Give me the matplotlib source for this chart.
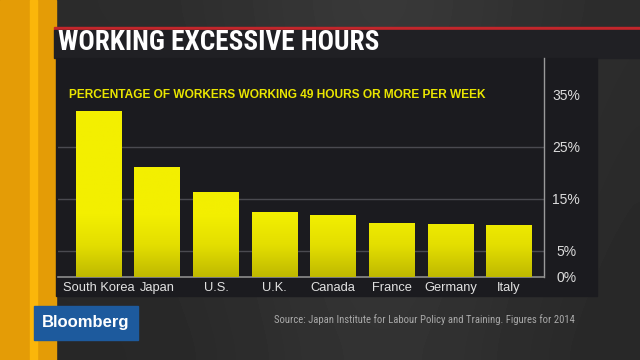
import numpy as np
import matplotlib
matplotlib.use("Agg")
import matplotlib.pyplot as plt
from matplotlib import font_manager as fm
from matplotlib.patches import Rectangle
from matplotlib.colors import LinearSegmentedColormap, Normalize

# ---- data ----
countries = ["South Korea", "Japan", "U.S.", "U.K.", "Canada", "France", "Germany", "Italy"]
share_pct = [31.9, 21.1, 16.3, 12.4, 11.8, 10.3, 10.1, 9.9]
tick_values = [0, 5, 15, 25, 35]
tick_labels = ["0%", "5%", "15%", "25%", "35%"]
grid_values = [5, 15, 25]
title = "WORKING EXCESSIVE HOURS"
subtitle = "PERCENTAGE OF WORKERS WORKING 49 HOURS OR MORE PER WEEK"
source = "Source: Japan Institute for Labour Policy and Training. Figures for 2014"
brand = "Bloomberg"


def has_font(name):
    try:
        fm.findfont(fm.FontProperties(family=name), fallback_to_default=False)
        return True
    except Exception:
        return False


NARROW = "Liberation Sans"
for cand in ["Liberation Sans Narrow", "Roboto Condensed", "Open Sans Condensed"]:
    if has_font(cand):
        NARROW = cand
        break
REG = "Liberation Sans"

W, H = 640, 360
fig = plt.figure(figsize=(6.4, 3.6), dpi=100)
fig.patch.set_facecolor("#2b2b2d")
renderer = fig.canvas.get_renderer()


def fit_text(t, target_px):
    w = t.get_window_extent(renderer=renderer).width
    if w > 0:
        t.set_fontsize(t.get_fontsize() * target_px / w)


# ---- background (pixel coordinates) ----
bg = fig.add_axes([0, 0, 1, 1], zorder=-10)
bg.set_xlim(0, W)
bg.set_ylim(H, 0)
bg.axis("off")
xs = np.linspace(0, 1, 64)
row = 0.17 + 0.05 * np.exp(-((xs - 0.6) / 0.25) ** 2)
img = np.tile(row, (16, 1))
vert = np.linspace(1.0, 0.9, 16)[:, None]
img = np.clip(img * vert, 0, 1)
bg.imshow(img, cmap="gray", vmin=0, vmax=1, extent=[0, W, H, 0], aspect="auto", zorder=0,
          interpolation="bicubic")
# orange stripe
bg.add_patch(Rectangle((0, 0), 56, H, color="#e49c06", zorder=1))
bg.add_patch(Rectangle((30, 0), 7, H, color="#fbb60a", zorder=1.1))
# red line and title bar
bg.add_patch(Rectangle((54, 27), W - 54, 3, color="#c3262b", zorder=2))
bg.add_patch(Rectangle((54, 30), W - 54, 28, color="#202024", zorder=2))
# chart panel
bg.add_patch(Rectangle((56, 58), 541, 238, color="#1b1b1f", zorder=2))
# Bloomberg box
bg.add_patch(Rectangle((34, 306), 104, 34, color="#1d5a9d", zorder=3))
t_brand = bg.text(86, 323, brand, color="white", fontsize=14, family=REG, fontweight="bold",
                  ha="center", va="center", zorder=4)
t_title = bg.text(58, 43, title, color="white", fontsize=18, family=NARROW, fontweight="bold",
                  ha="left", va="center", zorder=4)
t_sub = bg.text(69, 95, subtitle, color="#eae600", fontsize=9, family=REG, fontweight="bold",
                ha="left", va="center", zorder=4)
t_src = bg.text(274, 320, source, color="#a9a9a9", fontsize=7, family=NARROW,
                ha="left", va="center", zorder=4)
fit_text(t_brand, 88)
fit_text(t_title, 321)
fit_text(t_sub, 418)
fit_text(t_src, 301)

# ---- main chart ----
left, right = 58 / W, 544 / W
bottom, top = 1 - 276.7 / H, 1 - 58 / H
ax = fig.add_axes([left, bottom, right - left, top - bottom])
ax.set_facecolor("none")

x = np.arange(len(countries))
bars = ax.bar(x, share_pct, width=0.784, color="#ebe600", zorder=3)

cmap = LinearSegmentedColormap.from_list("ybar", ["#bfb900", "#e3de00", "#f3ef00"])
norm = Normalize(vmin=0, vmax=12, clip=True)
for p in bars:
    x0, w, h = p.get_x(), p.get_width(), p.get_height()
    ys = np.linspace(h, 0, 128)[:, None]
    im = ax.imshow(ys, cmap=cmap, norm=norm, extent=[x0, x0 + w, 0, h], aspect="auto",
                   zorder=3.5, interpolation="bilinear")
    im.set_clip_path(p)

ax.set_xlim(-0.694, 7.594)
ax.set_ylim(0, 42.06)
for g in grid_values:
    ax.axhline(g, color="#4a4a50", lw=1.0, zorder=1)

ax.set_xticks(x)
ax.set_xticklabels(countries, family=REG, fontsize=9.3, color="#e2e2e2")
ax.tick_params(axis="x", length=0, pad=4)
ax.yaxis.tick_right()
ax.set_yticks(tick_values)
ax.set_yticklabels(tick_labels, family=REG, fontsize=10, color="#dcdcdc")
for lab in ax.get_yticklabels():
    lab.set_horizontalalignment("center")
ax.tick_params(axis="y", length=0, pad=16)

for s in ["left", "top"]:
    ax.spines[s].set_visible(False)
ax.spines["bottom"].set_color("#8c8c8c")
ax.spines["bottom"].set_linewidth(1.2)
ax.spines["right"].set_color("#9a9a9a")
ax.spines["right"].set_linewidth(1.0)

fig.savefig("out.png", dpi=100, facecolor=fig.get_facecolor())
